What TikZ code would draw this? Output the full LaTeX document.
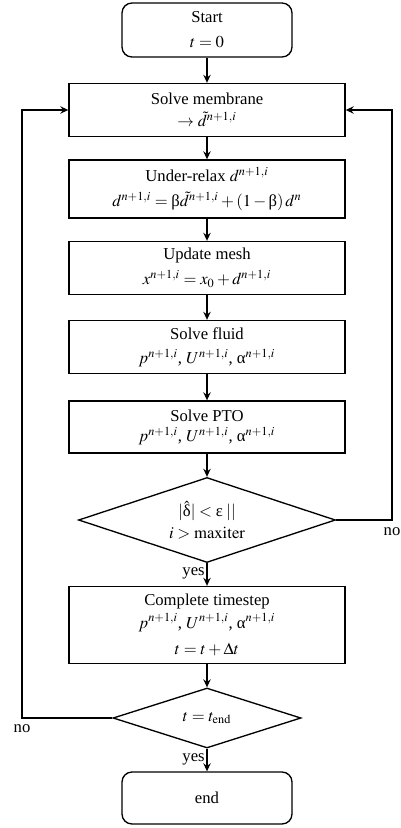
\documentclass[tikz,border=0pt]{standalone}
\usepackage{mathptmx}
\usepackage[no-math]{fontspec}
\setmainfont{Liberation Serif}
\usetikzlibrary{shapes.geometric,arrows.meta}
\newcommand{\gbeta}{\mbox{\normalfont β}}
\newcommand{\galpha}{\mbox{\normalfont α}}
\newcommand{\gdelta}{\mbox{\normalfont δ}}
\newcommand{\geps}{\mbox{\normalfont ε}}
\begin{document}
\begin{tikzpicture}[x=0.6pt,y=-0.6pt,
  every node/.style={font=\fontsize{10}{12}\selectfont},
  arr/.style={line width=0.8pt,-{Stealth[length=4.8pt,width=4.4pt,inset=1.6pt]}},
  term/.style={draw,line width=0.8pt,rounded corners=6pt,minimum width=102pt,inner sep=0pt,align=center},
  proc/.style={draw,line width=0.8pt,minimum width=165.6pt,inner sep=0pt,align=center},
  deci/.style={draw,line width=0.8pt,diamond,inner sep=0pt,align=center},
  lab/.style={inner sep=1pt}]
\useasboundingbox (0,0) rectangle (401,828);
\node[term,minimum height=32.4pt] (start) at (207,30) {Start\\[3pt]$t=0$};
\node[proc,minimum height=31.8pt] (memb) at (207,110) {Solve membrane\\[1.5pt]$\rightarrow\tilde{d}^{n+1,i}$};
\node[proc,minimum height=34.8pt] (relax) at (207,189) {Under-relax $d^{n+1,i}$\\[2.5pt]$d^{n+1,i}=\gbeta\tilde{d}^{n+1,i}+(1-\gbeta)\,d^{n}$};
\node[proc,minimum height=31.8pt] (mesh) at (207,268) {Update mesh\\[3pt]$x^{n+1,i}=x_0+d^{n+1,i}$};
\node[proc,minimum height=31.8pt] (fluid) at (207,347) {Solve fluid\\[2.5pt]$p^{n+1,i}$, $U^{n+1,i}$, $\galpha^{n+1,i}$};
\node[proc,minimum height=31.2pt] (pto) at (207,427) {Solve PTO\\$p^{n+1,i}$, $U^{n+1,i}$, $\galpha^{n+1,i}$};
\node[deci,minimum width=154.2pt,minimum height=51pt,aspect=3] (dec1) at (207,520) {$|\hat{\gdelta}|<\geps\;||$\\[1pt]$i>\mathrm{maxiter}$};
\node[proc,minimum height=46.2pt] (comp) at (207,625) {Complete timestep\\[1.5pt]$p^{n+1,i}$, $U^{n+1,i}$, $\galpha^{n+1,i}$\\[4pt]$t=t+\Delta t$};
\node[deci,minimum width=112.8pt,minimum height=36pt,aspect=3] (dec2) at (207,718) {$t=t_{\mathrm{end}}$};
\node[term,minimum height=31.2pt] (end) at (207,798) {end};
\coordinate (r1) at (392,520);
\coordinate (r2) at (392,110);
\coordinate (l1) at (22,718);
\coordinate (l2) at (22,110);
\draw[arr] (start) -- (memb);
\draw[arr] (memb) -- (relax);
\draw[arr] (relax) -- (mesh);
\draw[arr] (mesh) -- (fluid);
\draw[arr] (fluid) -- (pto);
\draw[arr] (pto) -- (dec1);
\draw[arr] (dec1) -- node[lab,left,pos=0.45] {yes} (comp);
\draw[arr] (comp) -- (dec2);
\draw[arr] (dec2) -- node[lab,left,pos=0.45] {yes} (end);
\draw[arr] (dec1.east) -- (r1) -- (r2) -- (memb.east);
\draw[arr] (dec2.west) -- (l1) -- (l2) -- (memb.west);
\node[lab] (no1) at (392,532) {no};
\node[lab] (no2) at (22,729) {no};
\end{tikzpicture}
\end{document}
